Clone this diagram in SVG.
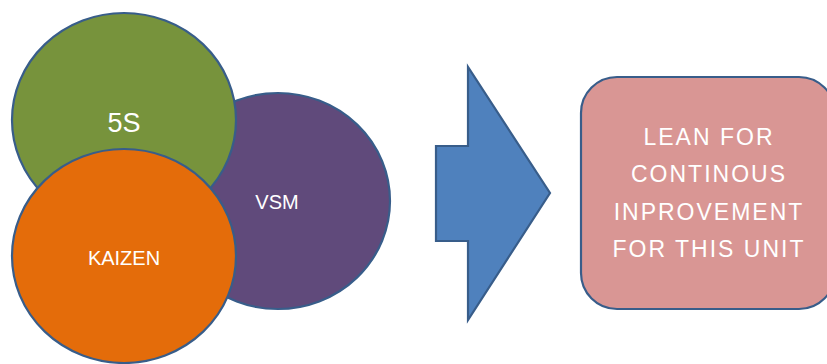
<svg xmlns="http://www.w3.org/2000/svg" width="827" height="364" viewBox="0 0 827 364">
  <style>
    .shape { stroke: #385D8A; stroke-width: 2.2; }
    .label { font-family: "Liberation Sans", Arial, sans-serif; fill: #FFFFFF; text-anchor: middle; }
    .box-text { font-size: 23px; letter-spacing: 2px; }
  </style>
  <rect width="827" height="364" fill="#FFFFFF"/>

  <!-- Lean tools: overlapping circles -->
  <g id="vsm">
    <ellipse class="shape" cx="278" cy="201" rx="112" ry="108" fill="#604A7B"/>
    <text class="label" x="277" y="209" font-size="20">VSM</text>
  </g>
  <g id="five-s">
    <ellipse class="shape" cx="124" cy="120" rx="112" ry="107" fill="#77933C"/>
    <text class="label" x="124" y="132" font-size="27">5S</text>
  </g>
  <g id="kaizen">
    <ellipse class="shape" cx="124" cy="256" rx="112" ry="107" fill="#E46C0A"/>
    <text class="label" x="124" y="265" font-size="20">KAIZEN</text>
  </g>

  <!-- Block arrow leading to the goal -->
  <g id="connectors">
    <polygon class="shape" points="436,146 468,146 468,67 550,193 468,320 468,241 436,241" fill="#4F81BD"/>
  </g>

  <!-- Goal box -->
  <g id="goal">
    <rect class="shape" x="581" y="77" width="254" height="232" rx="36" ry="36" fill="#D99694"/>
    <text class="label box-text" x="709" y="144.5">LEAN FOR</text>
    <text class="label box-text" x="709" y="182">CONTINOUS</text>
    <text class="label box-text" x="709" y="219.5">INPROVEMENT</text>
    <text class="label box-text" x="709" y="257">FOR THIS UNIT</text>
  </g>
</svg>
